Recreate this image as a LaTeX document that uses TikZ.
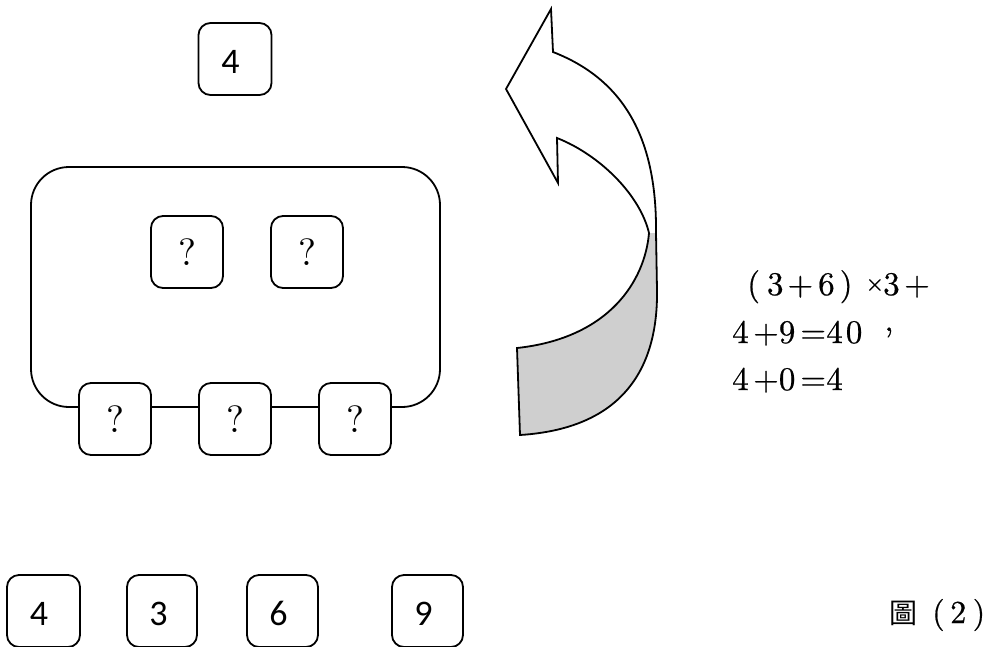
\documentclass[tikz,border=0pt]{standalone}
\usepackage{fontspec}
\newfontfamily\cjk{Noto Sans CJK TC}
\newfontfamily\sansdig{Carlito}
\newfontfamily\lmten{lmroman10-regular.otf}
\newfontfamily\lmexpr[FakeBold=0.6]{lmroman10-regular.otf}
\begin{document}
\begin{tikzpicture}[x=1pt,y=-1pt,
  box/.style={draw, line width=1.8pt, rounded corners=12pt, fill=white,
    minimum width=72pt, minimum height=72pt, inner sep=0pt},
  digitbox/.style={box, font=\fontsize{36}{36}\sansdig, text height=29pt, text depth=0pt},
  qbox/.style={box, font=\fontsize{38}{38}\lmten},
  expr/.style={anchor=base west, inner sep=0pt, font=\fontsize{33}{33}\lmexpr},
  ln/.style={line width=1.8pt, line join=miter}]
\useasboundingbox (0,0) rectangle (992,646);

% top box
\node[digitbox, minimum width=73pt] (top) at (235,59) {\kern-9pt4};

% frame
\node[draw, line width=1.8pt, rounded corners=38pt, minimum width=409pt,
  minimum height=240pt, inner sep=0pt] (frame) at (235.5,287) {};

% inner boxes
\node[qbox] (q1) at (187,252) {?};
\node[qbox] (q2) at (307,252) {?};
\node[qbox] (q3) at (115,419) {?};
\node[qbox] (q4) at (235,419) {?};
\node[qbox] (q5) at (355,419) {?};

% bottom row
\node[digitbox, minimum width=73pt] (b1) at (43.5,611) {\kern-9pt4};
\node[digitbox, minimum width=70pt] (b2) at (162,611) {\kern-7pt3};
\node[digitbox, minimum width=71pt] (b3) at (282.5,611) {\kern-8pt6};
\node[digitbox, minimum width=71pt] (b4) at (427.5,611) {\kern-8pt9};

% curved arrow
\fill[black!19] (649,233) .. controls (645,280) and (610,338) .. (517,348)
  -- (520,435) .. controls (630,428) and (658,360) .. (657,290) -- (656,233) -- cycle;
\draw[ln] (551,9) -- (553,52) .. controls (625,80) and (657,140) .. (656,233)
  -- (657,290) .. controls (658,360) and (630,428) .. (520,435) -- (517,348)
  .. controls (610,338) and (645,280) .. (649,233)
  .. controls (640,195) and (600,155) .. (557,138) -- (558,183) -- (506,89) -- cycle;

% expression
\node[expr] (e1) at (747,295) {(\hspace{7pt}3\hspace{4pt}+\hspace{5pt}6\hspace{5pt})\hspace{13pt}\raisebox{4pt}{\fontsize{24}{24}\selectfont ×}\hspace{-1pt}3\hspace{4.5pt}+};
\node[expr] (e2) at (732,343) {4\hspace{4.5pt}+9\hspace{5pt}=\hspace{0.3pt}4\hspace{3pt}0\hspace{22pt}\raisebox{12pt}{,}};
\node[expr] (e3) at (732,390) {4\hspace{4.5pt}+0\hspace{5pt}=\hspace{0.3pt}4};

% caption
\node[anchor=base west, inner sep=0pt, font=\fontsize{32}{32}\lmexpr] (cap) at (889,623)
  {{\fontsize{28}{28}\cjk 圖}\hspace{15pt}(\hspace{5.6pt}2\hspace{6.5pt})};
\end{tikzpicture}
\end{document}
